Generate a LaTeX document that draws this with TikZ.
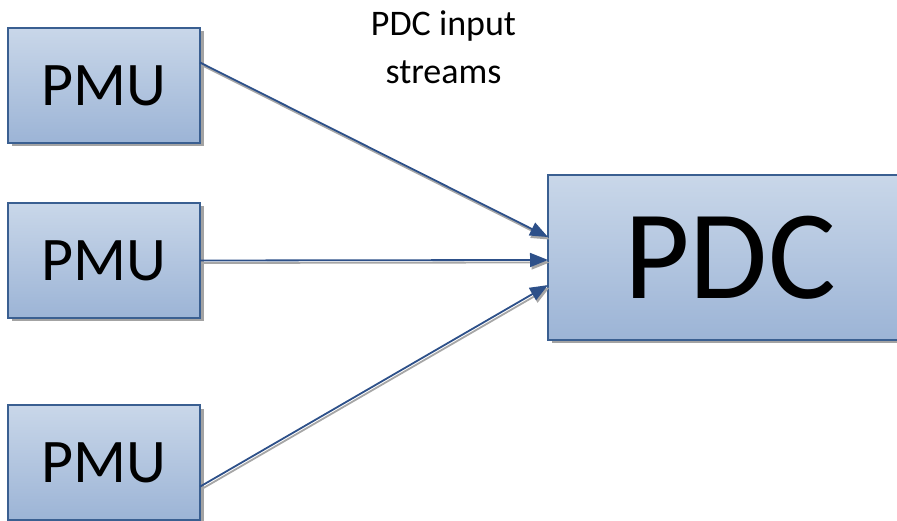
\documentclass[tikz,border=0pt]{standalone}
\usepackage{fontspec}
\setmainfont{Carlito}
\usetikzlibrary{calc,shadows,arrows.meta}
\definecolor{boxtop}{RGB}{201,215,233}
\definecolor{boxbot}{RGB}{156,180,214}
\definecolor{boxline}{RGB}{58,95,145}
\definecolor{arrowc}{RGB}{45,80,137}
\tikzset{
  blk/.style={draw=boxline, line width=1.5pt, top color=boxtop, bottom color=boxbot,
    inner sep=0pt, outer sep=0pt,
    drop shadow={shadow xshift=3.5pt, shadow yshift=-3.5pt, fill=black!45, opacity=0.8}},
  pmu/.style={blk, minimum width=192pt, minimum height=115pt, font=\fontsize{62}{70}\selectfont},
  pdcbox/.style={blk, minimum width=364pt, minimum height=165pt, font=\fontsize{127}{140}\selectfont},
  conn/.style={draw=arrowc, line width=1.8pt, -{Triangle[length=18pt,width=14pt]}},
  connshadow/.style={draw=black!35, line width=1.8pt, -{Triangle[length=18pt,width=14pt]},
    transform canvas={shift={(1.5pt,-2.5pt)}}},
  lbl/.style={align=center, font=\fontsize{36}{48}\selectfont, inner sep=0pt}
}
\begin{document}
\begin{tikzpicture}[x=1pt,y=-1pt]
\useasboundingbox (0,0) rectangle (897,521);
\clip (0,0) rectangle (897,521);
\node[pmu] (p1) at (104,85.5) {PMU};
\node[pmu] (p2) at (104,260.5) {PMU};
\node[pmu] (p3) at (104,462.5) {PMU};
\node[pdcbox] (pdc) at (730,257.5) {PDC};
\node[lbl] (lab) at (443.5,47) {PDC input\\streams};
\coordinate (s1) at ($(p1.north east)!0.3!(p1.south east)$);
\coordinate (s2) at (p2.east);
\coordinate (s3) at ($(p3.north east)!0.71!(p3.south east)$);
\coordinate (t1) at ($(pdc.north west)!0.376!(pdc.south west)$);
\coordinate (t2) at ($(pdc.north west)!0.515!(pdc.south west)$);
\coordinate (t3) at ($(pdc.north west)!0.667!(pdc.south west)$);
\draw[connshadow] (s1) -- (t1);
\draw[connshadow] (s2) -- (t2);
\draw[connshadow] (s3) -- (t3);
\draw[conn] (s1) -- (t1);
\draw[conn] (s2) -- (t2);
\draw[conn] (s3) -- (t3);
\end{tikzpicture}
\end{document}
